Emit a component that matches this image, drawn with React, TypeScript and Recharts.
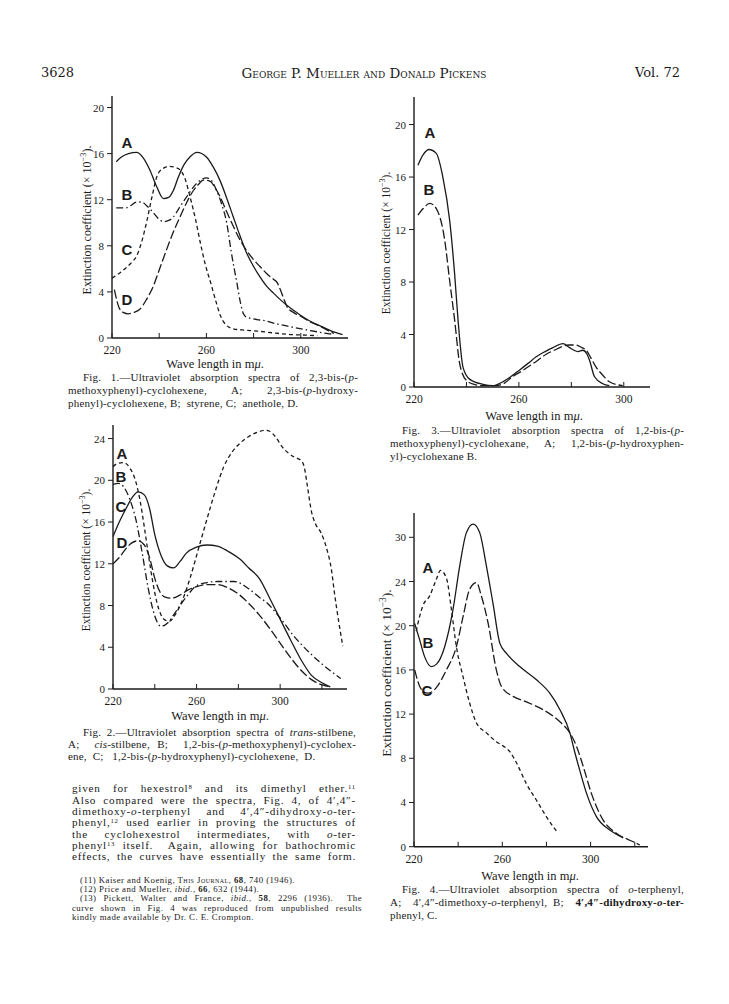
import React from "react";
import { LineChart, Line, XAxis, YAxis } from "recharts";

const SERIF = "'Liberation Serif', 'DejaVu Serif', serif";
const BOOK = "'DejaVu Serif', 'Liberation Serif', serif";
const SANS = "'Liberation Sans', Arial, sans-serif";
const INK = "#1a1a1a";

// ---- Fig. 1: 2,3-bis-(p-methoxyphenyl)-cyclohexene etc.
const fig1A_nm = [221.8, 224, 227, 230.4, 233, 236, 239, 241.8, 244, 246, 248, 250.4, 253, 256, 260, 263, 265.7, 268.5, 271.4, 274, 277, 280, 282.7, 285.5, 288.4, 292, 295.6, 299, 302.7, 306, 309.8, 313, 317.7];
const fig1A_ext = [15.3, 15.7, 16.0, 16.1, 15.7, 14.6, 13.1, 12.1, 12.2, 12.8, 13.9, 15.0, 15.7, 16.1, 15.7, 14.8, 13.7, 12.2, 10.5, 9.0, 7.4, 6.2, 5.3, 4.5, 3.9, 3.2, 2.6, 2.1, 1.6, 1.25, 0.9, 0.6, 0.3];
const fig1B_nm = [221.8, 224, 226, 228, 230.4, 232.5, 234.6, 237, 239.5, 241.8, 244, 246, 248.5, 251.8, 254.5, 257.5, 260, 262, 264.3, 266.5, 268.6, 270.5, 272.9, 274.5, 275.7, 277, 279, 281.4, 285, 288.4, 295, 302.7, 308, 314];
const fig1B_ext = [11.3, 11.3, 11.3, 11.5, 11.8, 11.8, 11.5, 11.0, 10.4, 10.1, 10.2, 10.5, 11.3, 12.3, 13.1, 13.7, 13.9, 13.7, 12.8, 11.6, 10.0, 7.5, 4.8, 3.0, 2.1, 1.8, 1.7, 1.6, 1.5, 1.3, 1.0, 0.7, 0.5, 0.3];
const fig1C_nm = [220, 223, 226, 228.5, 230.4, 232.5, 234.6, 237, 239, 241.5, 244.5, 247, 248.8, 251, 253, 255.5, 257.5, 259.5, 261.8, 264, 266, 268.5, 271.4, 275, 281.4, 288, 295.6, 302, 307];
const fig1C_ext = [5.2, 5.6, 6.1, 6.6, 7.1, 8.3, 10.0, 12.3, 14.0, 14.7, 14.9, 14.8, 14.6, 13.8, 12.3, 10.2, 8.2, 6.4, 4.8, 3.2, 1.9, 1.1, 0.8, 0.7, 0.6, 0.45, 0.3, 0.25, 0.2];
const fig1D_nm = [221, 222, 223.3, 225, 226.8, 229, 231.8, 234.5, 237.5, 240, 243, 246, 248.8, 251.5, 254.5, 256.5, 258.7, 261.6, 263.5, 265.7, 268.5, 271.4, 274, 277, 280, 282.7, 285.5, 288.4, 290, 291.3, 292.8, 294.2, 297, 299.9, 304, 308.4, 311, 314];
const fig1D_ext = [4.2, 3.3, 2.5, 2.2, 2.1, 2.2, 2.5, 3.3, 4.5, 5.9, 7.6, 9.2, 10.5, 11.7, 12.8, 13.3, 13.7, 13.6, 13.1, 12.3, 11.0, 9.7, 8.6, 7.6, 6.8, 6.2, 5.6, 5.1, 4.8, 4.2, 3.4, 2.7, 2.2, 1.9, 1.4, 1.0, 0.7, 0.4];

// ---- Fig. 3: 1,2-bis-(p-methoxyphenyl)-cyclohexane, hydroxy analogue
const fig3A_nm = [221.5, 223.5, 225.7, 228.5, 231, 233.6, 235.5, 236.8, 238.7, 241.2, 246.3, 250, 253.9, 257, 260.3, 263.5, 266.6, 270, 273, 276.8, 279.3, 281, 282.5, 284.4, 286, 287, 288.8, 292, 294.5];
const fig3A_ext = [16.9, 17.7, 18.1, 17.8, 16.0, 12.7, 8.6, 5.1, 1.5, 0.6, 0.2, 0.1, 0.4, 0.8, 1.3, 1.8, 2.3, 2.7, 3.0, 3.3, 3.0, 2.8, 2.7, 2.8, 2.5, 2.0, 0.8, 0.25, 0.1];
const fig3B_nm = [221.5, 223.5, 226, 228.5, 231.7, 233.6, 235.5, 237.4, 240, 243, 246.3, 251.4, 254.5, 257.7, 261, 264, 267, 270.4, 273.5, 276.8, 279, 281.8, 284, 285.7, 287.5, 289.5, 292, 294.5, 299.6];
const fig3B_ext = [13.1, 13.6, 14.0, 13.6, 11.2, 8.1, 5.1, 1.8, 0.5, 0.2, 0.1, 0.1, 0.3, 0.8, 1.2, 1.6, 2.0, 2.5, 2.8, 3.1, 3.2, 3.2, 3.0, 2.8, 2.2, 1.5, 0.9, 0.4, 0.1];

// ---- Fig. 2: stilbenes and cyclohexenes
const fig2A_nm = [220, 222, 225, 228, 231, 233, 235, 237, 239, 241, 243, 245, 247, 250, 253, 257, 261, 265, 269, 273, 277, 281, 285, 289, 293, 295, 298, 301, 304, 307, 310, 311.5, 313, 315, 317, 319.5, 322.5, 324.5, 326, 328, 330];
const fig2A_ext = [21.3, 21.6, 21.7, 21.2, 19.8, 18.0, 15.5, 12.8, 10.3, 8.3, 7.1, 6.6, 6.5, 7.2, 8.4, 10.7, 13.5, 16.3, 19.0, 21.3, 22.7, 23.6, 24.2, 24.6, 24.8, 24.7, 24.1, 23.2, 22.6, 22.2, 21.9, 21.3, 19.5, 17.0, 15.8, 15.0, 13.3, 11.5, 9.2, 6.5, 4.1];
const fig2B_nm = [220, 222.5, 225, 228, 231, 234, 237, 240, 243, 246, 250, 255, 260, 265, 270, 278, 285, 290, 294, 298, 302, 306, 310, 315, 320, 325, 329];
const fig2B_ext = [19.6, 19.7, 19.4, 18.2, 16.2, 13.0, 9.5, 7.0, 6.0, 6.3, 7.4, 8.8, 9.9, 10.2, 10.3, 10.3, 9.6, 8.8, 8.2, 7.3, 6.3, 5.2, 4.3, 3.3, 2.4, 1.6, 1.0];
const fig2C_nm = [220, 223, 226, 229, 232, 235, 237.5, 240, 243, 246, 249, 252, 255, 260, 265, 270, 275, 281, 285, 290, 295, 300, 305, 310, 315, 320, 324];
const fig2C_ext = [14.6, 16.0, 17.2, 18.3, 18.9, 18.6, 17.3, 14.8, 12.8, 11.8, 11.6, 12.2, 13.0, 13.6, 13.8, 13.7, 13.2, 12.4, 11.6, 10.6, 8.7, 6.7, 4.7, 2.8, 1.3, 0.6, 0.2];
const fig2D_nm = [220, 223, 226, 229, 232, 235, 237.5, 240, 242.5, 245, 248, 252, 256, 260, 265, 270, 275, 280, 285, 290, 295, 300, 305, 310, 315, 320, 324];
const fig2D_ext = [12.0, 12.6, 13.4, 14.0, 14.2, 13.8, 12.6, 10.6, 9.3, 8.8, 8.7, 9.0, 9.5, 9.8, 10.0, 10.0, 9.7, 9.1, 8.2, 7.1, 5.8, 4.4, 3.0, 1.8, 0.9, 0.4, 0.2];

// ---- Fig. 4: o-terphenyls
const fig4A_nm = [221, 222.5, 224, 227.1, 230.1, 232, 234.7, 237, 239.2, 242.2, 245.2, 248.3, 252.8, 257.3, 260.5, 263.4, 266.4, 270.9, 275.5, 280, 285.3];
const fig4A_ext = [19.5, 20.8, 21.8, 22.7, 24.2, 25.0, 24.3, 21.4, 18.1, 15.4, 13.0, 11.2, 10.3, 9.5, 9.1, 8.6, 7.6, 5.7, 4.2, 2.7, 1.2];
const fig4B_nm = [220.3, 222.6, 224.8, 227.9, 230.1, 233.9, 237.7, 240.7, 243.7, 246.8, 249.8, 252.8, 255.8, 258.9, 261.9, 267.9, 275.5, 281.5, 286.1, 290.6, 292.9, 295.1, 298.2, 302.7, 308.7, 314.8];
const fig4B_ext = [20.2, 18.7, 17.2, 16.3, 16.5, 18.1, 21.5, 25.4, 28.4, 29.2, 28.4, 25.4, 22.0, 18.4, 17.5, 16.3, 15.1, 13.9, 12.4, 10.3, 8.5, 6.9, 4.8, 2.7, 1.5, 0.8];
const fig4C_nm = [220.3, 222.6, 224.5, 226.3, 228, 230.1, 234.7, 239.2, 242.2, 245.2, 248.3, 250.5, 253.6, 257.3, 259.6, 264.9, 270.9, 278.5, 286.1, 290.6, 293.6, 296.6, 300.4, 305.7, 311.8, 319.3, 322.3];
const fig4C_ext = [16.0, 14.5, 14.0, 13.9, 14.0, 14.4, 16.0, 18.1, 20.8, 23.3, 23.9, 22.7, 20.2, 16.0, 14.5, 13.6, 13.1, 12.4, 11.3, 10.3, 9.1, 7.3, 4.8, 2.4, 1.2, 0.45, 0.15];

// ticks
const waveTicks = [220, 240, 260, 280, 300];
const waveTicksLong = [220, 240, 260, 280, 300, 320];
const waveLabelled = [220, 260, 300];
const extTicks20 = [0, 4, 8, 12, 16, 20];
const extTicks24 = [0, 4, 8, 12, 16, 20, 24];
const extTicks28 = [0, 4, 8, 12, 16, 20, 24, 28];
const fig4ExtLabels = ["0", "4", "8", "12", "16", "20", "24", "30"];

const SHORT = "4 3";
const LONG = "9 3";
const DASHDOT = "7 3 1.5 3";

type Curve = { nm: number[]; ext: number[]; dash?: string };
type Plot = { x: number; y: number; w: number; h: number };

const zip = (nm: number[], ext: number[]) => nm.map((x, i) => ({ x, y: ext[i] }));

function Spectrum(props: {
  plot: Plot;
  xMax: number;
  yMax: number;
  xTicks: number[];
  yTicks: number[];
  yLabels?: string[];
  curves: Curve[];
}) {
  const { plot, xMax, yMax, xTicks, yTicks, yLabels, curves } = props;
  const YW = 40, MT = 6, MR = 6, XH = 26;

  const xTick = (p: any) => {
    const { x, y, payload } = p;
    const v = payload.value;
    return (
      <g>
        <line x1={x} x2={x} y1={y} y2={y - 5} stroke={INK} strokeWidth={1} />
        {waveLabelled.includes(v) && (
          <text x={x} y={y + 16} textAnchor="middle" fontFamily={SERIF} fontSize={11.5} fill={INK}>
            {v}
          </text>
        )}
      </g>
    );
  };
  const yTick = (p: any) => {
    const { x, y, payload, index } = p;
    const label = yLabels ? yLabels[index] : String(payload.value);
    return (
      <g>
        <line x1={x - 5} x2={x} y1={y} y2={y} stroke={INK} strokeWidth={1} />
        <text x={x - 8} y={y + 4} textAnchor="end" fontFamily={SERIF} fontSize={11} fill={INK}>
          {label}
        </text>
      </g>
    );
  };

  return (
    <div style={{ position: "absolute", left: plot.x - YW, top: plot.y - MT }}>
      <LineChart
        width={plot.w + YW + MR}
        height={plot.h + MT + XH}
        margin={{ top: MT, right: MR, bottom: 0, left: 0 }}
      >
        <XAxis
          type="number"
          dataKey="x"
          domain={[220, xMax]}
          ticks={xTicks}
          interval={0}
          height={XH}
          tickSize={0}
          tickMargin={0}
          tickLine={false}
          axisLine={{ stroke: INK, strokeWidth: 1.4 }}
          tick={xTick}
          allowDataOverflow
        />
        <YAxis
          type="number"
          domain={[0, yMax]}
          ticks={yTicks}
          interval={0}
          width={YW}
          tickSize={0}
          tickMargin={0}
          tickLine={false}
          axisLine={{ stroke: INK, strokeWidth: 1.4 }}
          tick={yTick}
          allowDataOverflow
        />
        {curves.map((c, i) => (
          <Line
            key={i}
            data={zip(c.nm, c.ext)}
            dataKey="y"
            type="monotone"
            stroke={INK}
            strokeWidth={1.3}
            strokeDasharray={c.dash}
            dot={false}
            activeDot={false}
            isAnimationActive={false}
          />
        ))}
      </LineChart>
    </div>
  );
}

function T(props: {
  x: number;
  y: number;
  w?: number;
  size: number;
  lh?: number;
  font?: string;
  ls?: number;
  justify?: boolean;
  center?: boolean;
  right?: boolean;
  children: React.ReactNode;
}) {
  const { x, y, w, size, justify, center, right, children } = props;
  const lh = props.lh ?? size * 1.2;
  const align = center ? "center" : right ? "right" : justify ? "justify" : "left";
  return (
    <div
      style={{
        position: "absolute",
        left: center ? x - 200 : x,
        top: y - lh / 2,
        width: center ? 400 : w,
        height: lh,
        fontFamily: props.font ?? SERIF,
        fontSize: size,
        letterSpacing: props.ls ?? 0,
        lineHeight: `${lh}px`,
        textAlign: align,
        textAlignLast: align,
        whiteSpace: "nowrap",
      }}
    >
      {children}
    </div>
  );
}

// several lines in one block, every line justified to the full width
function Block(props: {
  x: number;
  y: number;
  w: number;
  size: number;
  lh: number;
  ls: number;
  lines: React.ReactNode[];
}) {
  const { x, y, w, size, lh, ls, lines } = props;
  return (
    <div
      style={{
        position: "absolute",
        left: x,
        top: y - lh / 2,
        width: w,
        fontFamily: SERIF,
        fontSize: size,
        letterSpacing: ls,
        lineHeight: `${lh}px`,
        textAlign: "justify",
        textAlignLast: "justify",
        whiteSpace: "nowrap",
      }}
    >
      {lines.map((l, i) => (
        <React.Fragment key={i}>
          {l}
          {i < lines.length - 1 && <br />}
        </React.Fragment>
      ))}
    </div>
  );
}

function YLabel({ x, y, size }: { x: number; y: number; size: number }) {
  return (
    <div
      style={{
        position: "absolute",
        left: x,
        top: y,
        fontFamily: SERIF,
        fontSize: size,
        lineHeight: `${size + 2}px`,
        whiteSpace: "nowrap",
        transform: "translate(-50%, -50%) rotate(-90deg)",
      }}
    >
      Extinction coefficient (× 10<sup style={{ fontSize: "0.7em", lineHeight: 0 }}>−3</sup>).
    </div>
  );
}

function Tag({ x, y, c }: { x: number; y: number; c: string }) {
  return (
    <div
      style={{
        position: "absolute",
        left: x - 8,
        top: y - 9,
        width: 16,
        textAlign: "center",
        fontFamily: SANS,
        fontWeight: 700,
        fontSize: 15,
        lineHeight: "18px",
      }}
    >
      {c}
    </div>
  );
}

const I = ({ children }: { children: React.ReactNode }) => <i>{children}</i>;
const S = ({ children }: { children: React.ReactNode }) => (
  <sup style={{ fontSize: "0.6em", lineHeight: 0, verticalAlign: "3px" }}>{children}</sup>
);
const SC = ({ children }: { children: React.ReactNode }) => (
  <span style={{ fontVariant: "small-caps" }}>{children}</span>
);

// caption, body and footnote type
const CAP = 11;
const CAP_LS = 0.2;
const BODY = 11.2;
const BODY_LS = 0.75;
const NOTE = 8.8;
const NOTE_LS = 0.45;

const bodyLines = [
  <>given for hexestrol<S>8</S> and its dimethyl ether.<S>11</S></>,
  <>Also compared were the spectra, Fig. 4, of 4′,4″-</>,
  <>dimethoxy-<I>o</I>-terphenyl and 4′,4″-dihydroxy-<I>o</I>-ter-</>,
  <>phenyl,<S>12</S> used earlier in proving the structures of</>,
  <>the cyclohexestrol intermediates, with <I>o</I>-ter-</>,
  <>phenyl<S>13</S> itself.&nbsp; Again, allowing for bathochromic</>,
  <>effects, the curves have essentially the same form.</>,
];

export default function App() {
  return (
    <div
      style={{
        position: "absolute",
        left: 0,
        top: 0,
        width: 729,
        height: 1004,
        background: "#fff",
        color: INK,
        fontFamily: SERIF,
        overflow: "hidden",
      }}
    >
      {/* running head */}
      <T x={41} y={73} w={60} size={13} font={BOOK}>3628</T>
      <T x={364} y={73} size={13.5} font={BOOK} center>
        <SC>George P. Mueller and Donald Pickens</SC>
      </T>
      <T x={600} y={73} w={80} size={13} font={BOOK} right>Vol. 72</T>

      {/* Fig. 1 */}
      <Spectrum
        plot={{ x: 112, y: 96, w: 236, h: 242 }}
        xMax={320}
        yMax={21}
        xTicks={waveTicks}
        yTicks={extTicks20}
        curves={[
          { nm: fig1A_nm, ext: fig1A_ext },
          { nm: fig1B_nm, ext: fig1B_ext, dash: DASHDOT },
          { nm: fig1C_nm, ext: fig1C_ext, dash: SHORT },
          { nm: fig1D_nm, ext: fig1D_ext, dash: LONG },
        ]}
      />
      <YLabel x={87} y={220} size={12} />
      <Tag x={127} y={143} c="A" />
      <Tag x={127} y={195} c="B" />
      <Tag x={127} y={250} c="C" />
      <Tag x={127} y={300} c="D" />
      <T x={215} y={364} size={12.5} center>Wave length in m<I>μ</I>.</T>
      <T x={83} y={378} w={275} size={CAP} ls={CAP_LS} justify>
        Fig. 1.—Ultraviolet absorption spectra of 2,3-bis-(<I>p</I>-
      </T>
      <T x={68} y={391} w={290} size={CAP} ls={CAP_LS} justify>
        methoxyphenyl)-cyclohexene, A; 2,3-bis-(<I>p</I>-hydroxy-
      </T>
      <T x={68} y={404} w={290} size={CAP} ls={CAP_LS}>
        phenyl)-cyclohexene, B;&nbsp; styrene, C;&nbsp; anethole, D.
      </T>

      {/* Fig. 3 */}
      <Spectrum
        plot={{ x: 414, y: 97, w: 236, h: 290 }}
        xMax={310}
        yMax={22.1}
        xTicks={waveTicks}
        yTicks={extTicks20}
        curves={[
          { nm: fig3A_nm, ext: fig3A_ext },
          { nm: fig3B_nm, ext: fig3B_ext, dash: LONG },
        ]}
      />
      <YLabel x={387} y={243} size={11.5} />
      <Tag x={430} y={133} c="A" />
      <Tag x={429} y={190} c="B" />
      <T x={534} y={416} size={12.5} center>Wave length in m<I>μ</I>.</T>
      <T x={402} y={431} w={282} size={CAP} ls={CAP_LS} justify>
        Fig. 3.—Ultraviolet absorption spectra of 1,2-bis-(<I>p</I>-
      </T>
      <T x={390} y={444} w={294} size={CAP} ls={CAP_LS} justify>
        methoxyphenyl)-cyclohexane, A; 1,2-bis-(<I>p</I>-hydroxyphen-
      </T>
      <T x={390} y={457} w={294} size={CAP} ls={CAP_LS}>yl)-cyclohexane B.</T>

      {/* Fig. 2 */}
      <Spectrum
        plot={{ x: 112.7, y: 425, w: 234, h: 264 }}
        xMax={332}
        yMax={25.3}
        xTicks={waveTicksLong}
        yTicks={extTicks24}
        curves={[
          { nm: fig2A_nm, ext: fig2A_ext, dash: SHORT },
          { nm: fig2B_nm, ext: fig2B_ext, dash: DASHDOT },
          { nm: fig2C_nm, ext: fig2C_ext },
          { nm: fig2D_nm, ext: fig2D_ext, dash: LONG },
        ]}
      />
      <YLabel x={87} y={560} size={11.5} />
      <Tag x={122} y={454} c="A" />
      <Tag x={121} y={477} c="B" />
      <Tag x={121} y={507} c="C" />
      <Tag x={122} y={543} c="D" />
      <T x={220} y={716} size={12.5} center>Wave length in m<I>μ</I>.</T>
      <T x={83} y={733} w={273} size={CAP} ls={CAP_LS} justify>
        Fig. 2.—Ultraviolet absorption spectra of <I>trans</I>-stilbene,
      </T>
      <T x={68} y={745} w={288} size={CAP} ls={CAP_LS} justify>
        A;&nbsp; <I>cis</I>-stilbene, B;&nbsp; 1,2-bis-(<I>p</I>-methoxyphenyl)-cyclohex-
      </T>
      <T x={68} y={757} w={288} size={CAP} ls={CAP_LS}>
        ene,&nbsp; C;&nbsp;&nbsp; 1,2-bis-(<I>p</I>-hydroxyphenyl)-cyclohexene,&nbsp; D.
      </T>

      {/* body text */}
      <Block x={72} y={789} w={284} size={BODY} lh={11.35} ls={BODY_LS} lines={bodyLines} />

      {/* footnotes */}
      <div
        style={{
          position: "absolute",
          left: 72,
          top: 880.3 - 4.7,
          width: 290,
          fontSize: NOTE,
          letterSpacing: NOTE_LS,
          lineHeight: "9.4px",
          whiteSpace: "nowrap",
        }}
      >
        <div style={{ paddingLeft: 8 }}>
          (11) Kaiser and Koenig, T<SC>his</SC> J<SC>ournal</SC>, <b>68</b>, 740 (1946).
        </div>
        <div style={{ paddingLeft: 8 }}>
          (12) Price and Mueller, <I>ibid.</I>, <b>66</b>, 632 (1944).
        </div>
        <div style={{ paddingLeft: 8, textAlign: "justify", textAlignLast: "justify" }}>
          (13) Pickett, Walter and France, <I>ibid.</I>, <b>58</b>, 2296 (1936).&nbsp; The
        </div>
        <div style={{ textAlign: "justify", textAlignLast: "justify" }}>
          curve shown in Fig. 4 was reproduced from unpublished results
        </div>
        <div>kindly made available by Dr. C. E. Crompton.</div>
      </div>

      {/* Fig. 4 */}
      <Spectrum
        plot={{ x: 414.3, y: 513, w: 234, h: 333.7 }}
        xMax={326}
        yMax={30.2}
        xTicks={waveTicksLong}
        yTicks={extTicks28}
        yLabels={fig4ExtLabels}
        curves={[
          { nm: fig4A_nm, ext: fig4A_ext, dash: SHORT },
          { nm: fig4B_nm, ext: fig4B_ext },
          { nm: fig4C_nm, ext: fig4C_ext, dash: LONG },
        ]}
      />
      <YLabel x={387} y={673} size={13.5} />
      <Tag x={428} y={568} c="A" />
      <Tag x={428} y={643} c="B" />
      <Tag x={427} y={691} c="C" />
      <T x={530} y={876} size={12.5} center>Wave length in m<I>μ</I>.</T>
      <T x={402} y={890} w={282} size={CAP} ls={CAP_LS} justify>
        Fig. 4.—Ultraviolet absorption spectra of <I>o</I>-terphenyl,
      </T>
      <T x={390} y={903} w={294} size={CAP} ls={CAP_LS} justify>
        A;&nbsp; 4′,4″-dimethoxy-<I>o</I>-terphenyl, B;&nbsp; <b>4′,4″-dihydroxy-<I>o</I>-ter-</b>
      </T>
      <T x={390} y={916} w={294} size={CAP} ls={CAP_LS}>phenyl, C.</T>
    </div>
  );
}
